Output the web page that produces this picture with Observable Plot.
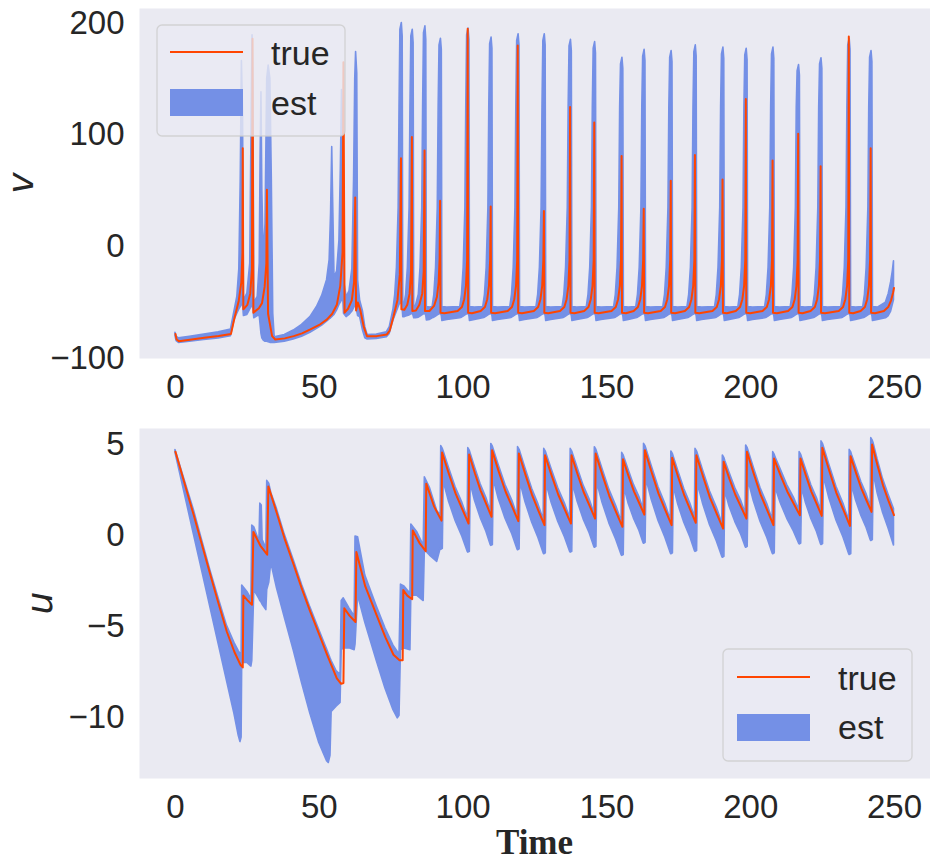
<!DOCTYPE html>
<html><head><meta charset="utf-8">
<script src="https://cdn.jsdelivr.net/npm/d3@7"></script>
<script src="https://cdn.jsdelivr.net/npm/@observablehq/plot@0.6"></script>
<style>
body{margin:0;background:#fff;}
#fig{position:relative;width:930px;height:861px;overflow:hidden;}
#fig svg{position:absolute;left:0;}
</style></head><body><div id="fig"></div>
<script>
const xTicks = [0, 50, 100, 150, 200, 250];
const vTicks = [-100, 0, 100, 200];
const uTicks = [-10, -5, 0, 5];
const legendLabels = ["true", "est"];
const xLabel = "Time";
const vLabel = "v";
const uLabel = "u";

// true membrane potential v: [time, v]
const vTrue = [
[0,-78],[0.4,-83],[1.2,-84.5],[5,-83.2],[10,-81.5],[15,-79.8],[19.3,-78],
[20.5,-64],[22,-48.5],[22.9,-32],[23.3,-5],[23.4,88],
[23.6,-56],[25,-52],[26,-42],[26.6,-20],[26.8,186],
[27.1,-59],[29,-55],[30.1,-50.5],[31,-36],[31.6,-15],[31.8,51],
[32.2,-60],[33.6,-80],[34.7,-83],[38,-82],[41.1,-80],[44,-77.5],[46.9,-74],[50,-70],[52.7,-65],[54.5,-60],[56.1,-52],[57.3,-35],[58.1,-5],[58.4,165],
[58.8,-59],[60,-55.5],[61.3,-48],[62.1,-32],[62.5,44],
[62.8,-57],[63.4,-50],[64.2,-56],[65.5,-72],[66.6,-80],[70,-80],[73.5,-78.5],[74.5,-75],[75.8,-62.5],[77.2,-47.6],[78.0,-25],[78.4,79],
[78.55,-56],[79.6,-56.5],[80.6,-52],[81.4,-42],[81.9,-22],[82.2,98],
[82.35,-57.5],[83.6,-57],[84.8,-52],[85.8,-42],[86.3,-22],[86.6,86],
[86.75,-57.5],[88.3,-57.5],[89.9,-53],[90.9,-45],[91.5,-32],[91.85,-10],[92.0,41],
[92.15,-59],[93.5,-59.5],[98.1,-57.5],[99.6,-54],[100.4,-47],[101.0,-35],[101.4,-12],[101.6,195],
[101.75,-59],[103.1,-59.5],[106.1,-57.5],[107.6,-54],[108.4,-47],[109.0,-35],[109.4,-12],[109.6,36],
[109.75,-59],[111.1,-59.5],[115.5,-57.5],[117.0,-54],[117.8,-47],[118.4,-35],[118.8,-12],[119.0,180],
[119.15,-59],[120.5,-59.5],[124.6,-57.5],[126.1,-54],[126.9,-47],[127.5,-35],[127.9,-12],[128.1,32],
[128.25,-59],[129.6,-59.5],[133.7,-57.5],[135.2,-54],[136.0,-47],[136.6,-35],[137.0,-12],[137.2,125],
[137.35,-59],[138.7,-59.5],[142.1,-57.5],[143.6,-54],[144.4,-47],[145.0,-35],[145.4,-12],[145.6,111],
[145.75,-59],[147.1,-59.5],[151.6,-57.5],[153.1,-54],[153.9,-47],[154.5,-35],[154.9,-12],[155.1,81],
[155.25,-59],[156.6,-59.5],[159.3,-57.5],[160.8,-54],[161.6,-47],[162.2,-35],[162.6,-12],[162.8,34],
[162.95,-59],[164.3,-59.5],[168.7,-57.5],[170.2,-54],[171.0,-47],[171.6,-35],[172.0,-12],[172.2,59],
[172.35,-59],[173.7,-59.5],[177.1,-57.5],[178.6,-54],[179.4,-47],[180.0,-35],[180.4,-12],[180.6,82],
[180.75,-59],[182.1,-59.5],[186.7,-57.5],[188.2,-54],[189.0,-47],[189.6,-35],[190.0,-12],[190.2,60],
[190.35,-59],[191.7,-59.5],[194.8,-57.5],[196.3,-54],[197.1,-47],[197.7,-35],[198.1,-12],[198.3,132],
[198.45,-59],[199.8,-59.5],[204.1,-57.5],[205.6,-54],[206.4,-47],[207.0,-35],[207.4,-12],[207.6,77],
[207.75,-59],[209.1,-59.5],[213.0,-57.5],[214.5,-54],[215.3,-47],[215.9,-35],[216.3,-12],[216.5,101],
[216.65,-59],[218.0,-59.5],[220.8,-57.5],[222.3,-54],[223.1,-47],[223.7,-35],[224.1,-12],[224.3,72],
[224.45,-59],[225.8,-59.5],[230.6,-57.5],[232.1,-54],[232.9,-47],[233.5,-35],[233.9,-12],[234.1,188],
[234.25,-59],[235.6,-59.5],[238.2,-57.5],[239.7,-54],[240.5,-47],[241.1,-35],[241.5,-12],[241.7,88],
[241.85,-59],[243.2,-59.5],[246.3,-57.5],[247.8,-54],[248.8,-48],[249.5,-41],[249.8,-37]
];

// estimated v band: [time, lower, upper]
const vEst = [
[0,-80,-77],[0.4,-84.5,-80.5],[1.2,-86,-82],[5,-85,-80.5],[10,-83.5,-78.5],[15,-82,-76.5],[19.3,-80,-74],
[20.5,-66,-58],[21.5,-60,-45],[22.2,-56,-20],[22.7,-54,60],[23.1,-52,166],[23.5,-52,120],[23.8,-62,-48],
[25.0,-61,-42],[26.0,-56,-15],[26.5,-54,120],[26.8,-52,189],[27.1,-55,140],[27.4,-64,-50],
[28.6,-62,-45],[29.3,-62,-15],[29.6,-70,80],[29.9,-78,138],[30.2,-82,50],[30.7,-84,-10],[31.3,-85,20],
[31.9,-85,150],[32.4,-85.5,162],[33.0,-86,150],[33.5,-86,60],[34.0,-86,-60],[34.5,-86,-81],
[38,-85,-79],[41.1,-83,-75],[44,-80.5,-70],[46.9,-77,-63],[49.2,-73.5,-54],[51,-70.5,-44],[52.7,-67,-30],
[53.6,-65,-12],[54.1,-64,30],[54.5,-63,89],[54.9,-62,30],[55.3,-61,-28],[56.2,-57,-22],[57.0,-52,5],
[57.5,-50,70],[57.9,-48,140],[58.3,-45,110],[58.6,-60,-30],[59.5,-63,-45],[60.5,-61,-40],[61.5,-58,-20],
[62.1,-55,60],[62.5,-53,150],[62.8,-54,174],[63.2,-58,155],[63.5,-62,-30],[64.2,-63,-48],[65.2,-75,-58],
[66.0,-82,-72],[66.8,-83,-79],[70,-82.5,-78.5],[73.5,-81,-76.5],[74.5,-78,-72],[75.8,-66,-56],
[76.4,-62,-43],[77.0,-58,-19],[77.6,-54,35],[77.9,-52,124],[78.2,-51,194],[78.7,-50,200],[79.0,-56,188],[79.2,-63,-52],
[79.6,-63,-52],[80.2,-62.5,-43],[80.8,-62,-19],[81.4,-61.5,35],[81.7,-61,124],[82.0,-60.5,188],[82.5,-60,194],[82.8,-62,182],[83.0,-64,-53],
[83.6,-64,-53],[84.6,-63.5,-43],[85.2,-62.5,-19],[85.8,-61.5,35],[86.1,-61,124],[86.4,-60.5,191],[86.9,-60,197],[87.2,-62,185],[87.4,-66,-54],
[88.5,-65.5,-54.5],[89.4,-64,-54],[90.0,-63.5,-43],[90.6,-62.5,-19],[91.2,-61.5,35],[91.5,-61,124],[91.8,-60.5,180],[92.3,-60,186],[92.6,-62,176],[92.8,-66.5,-54],
[94.5,-65.5,-54.5],[99.0,-64,-54],[99.6,-63.5,-43],[100.2,-62.5,-19],[100.8,-61.5,35],[101.1,-61,124],[101.4,-60.5,189],[101.9,-60,195],[102.2,-62,185],[102.4,-66.5,-54],
[104.1,-65.5,-54.5],[107.0,-64,-54],[107.6,-63.5,-43],[108.2,-62.5,-19],[108.8,-61.5,35],[109.1,-61,124],[109.4,-60.5,181],[109.9,-60,187],[110.2,-62,177],[110.4,-66.5,-54],
[112.1,-65.5,-54.5],[116.4,-64,-54],[117.0,-63.5,-43],[117.6,-62.5,-19],[118.2,-61.5,35],[118.5,-61,124],[118.8,-60.5,184],[119.3,-60,190],[119.6,-62,180],[119.8,-66.5,-54],
[121.5,-65.5,-54.5],[125.5,-64,-54],[126.1,-63.5,-43],[126.7,-62.5,-19],[127.3,-61.5,35],[127.6,-61,124],[127.9,-60.5,184],[128.4,-60,190],[128.7,-62,180],[128.9,-66.5,-54],
[130.6,-65.5,-54.5],[134.6,-64,-54],[135.2,-63.5,-43],[135.8,-62.5,-19],[136.4,-61.5,35],[136.7,-61,124],[137.0,-60.5,179],[137.5,-60,185],[137.8,-62,175],[138.0,-66.5,-54],
[139.7,-65.5,-54.5],[143.0,-64,-54],[143.6,-63.5,-43],[144.2,-62.5,-19],[144.8,-61.5,35],[145.1,-61,124],[145.4,-60.5,177],[145.9,-60,183],[146.2,-62,173],[146.4,-66.5,-54],
[148.1,-65.5,-54.5],[152.5,-64,-54],[153.1,-63.5,-43],[153.7,-62.5,-19],[154.3,-61.5,35],[154.6,-61,124],[154.9,-60.5,163],[155.4,-60,169],[155.7,-62,159],[155.9,-66.5,-54],
[157.6,-65.5,-54.5],[160.2,-64,-54],[160.8,-63.5,-43],[161.4,-62.5,-19],[162.0,-61.5,35],[162.3,-61,124],[162.6,-60.5,170],[163.1,-60,176],[163.4,-62,166],[163.6,-66.5,-54],
[165.3,-65.5,-54.5],[169.6,-64,-54],[170.2,-63.5,-43],[170.8,-62.5,-19],[171.4,-61.5,35],[171.7,-61,124],[172.0,-60.5,169],[172.5,-60,175],[172.8,-62,165],[173.0,-66.5,-54],
[174.7,-65.5,-54.5],[178.0,-64,-54],[178.6,-63.5,-43],[179.2,-62.5,-19],[179.8,-61.5,35],[180.1,-61,124],[180.4,-60.5,174],[180.9,-60,180],[181.2,-62,170],[181.4,-66.5,-54],
[183.1,-65.5,-54.5],[187.6,-64,-54],[188.2,-63.5,-43],[188.8,-62.5,-19],[189.4,-61.5,35],[189.7,-61,124],[190.0,-60.5,172],[190.5,-60,178],[190.8,-62,168],[191.0,-66.5,-54],
[192.7,-65.5,-54.5],[195.7,-64,-54],[196.3,-63.5,-43],[196.9,-62.5,-19],[197.5,-61.5,35],[197.8,-61,124],[198.1,-60.5,171],[198.6,-60,177],[198.9,-62,167],[199.1,-66.5,-54],
[200.8,-65.5,-54.5],[205.0,-64,-54],[205.6,-63.5,-43],[206.2,-62.5,-19],[206.8,-61.5,35],[207.1,-61,124],[207.4,-60.5,172],[207.9,-60,178],[208.2,-62,168],[208.4,-66.5,-54],
[210.1,-65.5,-54.5],[213.9,-64,-54],[214.5,-63.5,-43],[215.1,-62.5,-19],[215.7,-61.5,35],[216.0,-61,124],[216.3,-60.5,157],[216.8,-60,162.5],[217.1,-62,153],[217.3,-66.5,-54],
[219.0,-65.5,-54.5],[221.7,-64,-54],[222.3,-63.5,-43],[222.9,-62.5,-19],[223.5,-61.5,35],[223.8,-61,124],[224.1,-60.5,163],[224.6,-60,168.5],[224.9,-62,159],[225.1,-66.5,-54],
[226.8,-65.5,-54.5],[231.5,-64,-54],[232.1,-63.5,-43],[232.7,-62.5,-19],[233.3,-61.5,35],[233.6,-61,124],[233.9,-60.5,180],[234.4,-60,186],[234.7,-62,176],[234.9,-66.5,-54],
[236.6,-65.5,-54.5],[239.1,-64,-54],[239.7,-63.5,-43],[240.3,-62.5,-19],[240.9,-61.5,35],[241.2,-61,124],[241.5,-60.5,169],[242.0,-60,175],[242.3,-62,165],[242.5,-66.5,-54],
[244.2,-65.5,-54.5],[247.0,-64,-50],[248.0,-62,-42],[248.8,-58,-32],[249.4,-52,-22],[249.8,-48,-13]
];

// true recovery variable u: [time, u]
const uTrue = [
[0,4.6],[3,2.95],[6.4,1.1],[9,-0.38],[12.2,-2.2],[15,-3.75],[17.9,-5.3],[20.5,-6.4],[22.6,-7.1],[23.4,-7.25],
[23.6,-3.3],[25,-3.55],[26.6,-3.8],[27.1,0.2],[29.5,-0.55],[31.9,-1.05],[32.3,2.7],
[35.3,1.2],[38,-0.2],[41.1,-1.6],[44,-2.95],[46.9,-4.2],[50,-5.45],[52.7,-6.55],[56.1,-7.85],[57.6,-8.15],[58.4,-8.1],
[58.7,-4.0],[60.5,-4.4],[62.6,-4.75],[62.9,-0.9],[66,-2.8],[70,-4.4],[73,-5.6],[75.8,-6.55],[77.9,-6.85],[79.0,-6.85],
[79.2,-3.0],[80.6,-3.3],[82.3,-3.5],[82.5,0.28],[84.8,-0.4],[87.0,-0.86],[87.2,2.85],[89.9,1.6],[92.5,0.82],
[92.7,4.56],[95.05,3.39],[97.4,2.30],[99.75,1.44],[101.9,0.66],
[102.1,4.45],[104.1,3.42],[106.1,2.47],[108.1,1.71],[109.9,1.03],
[110.1,4.68],[112.4,3.51],[114.75,2.42],[117.1,1.57],[119.2,0.79],
[119.4,4.51],[121.7,3.33],[124.0,2.22],[126.2,1.36],[128.3,0.57],
[128.5,4.41],[130.8,3.29],[133.1,2.24],[135.4,1.41],[137.5,0.66],
[137.7,4.41],[139.8,3.37],[141.9,2.39],[144.0,1.63],[145.9,0.93],
[146.1,4.5],[148.5,3.29],[150.85,2.17],[153.2,1.28],[155.4,0.48],
[155.6,4.19],[157.5,3.28],[159.4,2.43],[161.3,1.76],[163.0,1.15],
[163.2,4.69],[165.6,3.45],[167.95,2.30],[170.3,1.39],[172.5,0.57],
[172.7,4.27],[174.8,3.2],[176.9,2.2],[179.0,1.41],[180.9,0.70],
[181.1,4.41],[183.5,3.2],[185.85,2.07],[188.2,1.19],[190.4,0.38],
[190.6,4.05],[192.6,3.11],[194.65,2.24],[196.7,1.55],[198.5,0.93],
[198.7,4.6],[201.05,3.39],[203.4,2.26],[205.75,1.38],[207.9,0.57],
[208.1,4.23],[210.4,3.29],[212.7,2.42],[215.0,1.73],[217.1,1.11],
[217.3,4.23],[219.2,3.29],[221.1,2.4],[223.0,1.71],[224.7,1.08],
[224.9,4.82],[227.35,3.53],[229.8,2.33],[232.25,1.39],[234.5,0.53],
[234.7,4.36],[236.6,3.44],[238.45,2.59],[240.3,1.91],[242.0,1.30],
[242.2,5.0],[244.1,3.84],[246.0,2.75],[247.9,1.9],[249.8,1.12]
];

// estimated u band: [time, lower, upper]
const uEst = [
[0,4.55,4.7],[3,2.45,3.15],[6.4,0.07,1.4],[9,-1.75,-0.1],[12.2,-3.99,-1.95],[15,-5.95,-3.45],[17.9,-7.98,-4.95],
[20.5,-9.8,-5.9],[22.0,-11.0,-6.35],[22.6,-11.35,-6.5],[23.0,-11.1,-6.6],[23.2,-7.0,-2.75],[25.0,-7.0,-3.1],
[26.4,-7.2,-3.5],[26.7,-6.9,0.55],[27.4,-3.0,0.45],[29.2,-3.5,-0.35],[29.5,-3.6,1.75],[30.0,-3.7,1.65],
[30.3,-3.8,-0.25],[31.6,-4.1,-0.7],[31.9,-3.0,3.0],[32.6,-2.6,2.85],[33.3,-1.5,2.35],[35.3,-2.9,1.45],
[38,-4.5,0.05],[41.1,-6.3,-1.35],[44,-8.1,-2.7],[46.9,-9.8,-3.95],[50,-11.4,-5.2],[52.7,-12.4,-6.25],
[53.3,-12.5,-6.5],[53.9,-12.1,-6.75],[54.3,-9.7,-6.9],[56.0,-9.4,-7.45],[57.4,-9.2,-7.65],[57.8,-6.3,-3.6],
[58.5,-6.2,-3.45],[60.5,-6.2,-4.0],[62.3,-6.3,-4.45],[62.6,-6.0,-0.05],[63.5,-3.3,-0.1],[66,-4.8,-2.2],
[70,-6.9,-3.9],[73,-8.4,-5.1],[75.8,-9.6,-6.05],[77.3,-10.05,-6.4],[77.9,-9.9,-6.5],[78.4,-6.3,-2.7],
[79.6,-6.2,-2.8],[81.7,-6.3,-3.2],[82.0,-3.3,0.6],[84.0,-3.3,0.2],[86.3,-3.6,-0.55],[86.7,-0.8,3.2],
[88.5,-1.1,2.6],[91.0,-1.45,1.35],
[92.2,-0.73,1.12],[92.4,-0.78,4.91],[92.95,-0.73,4.76],[93.25,2.96,4.61],[95.05,1.89,3.74],[97.4,0.80,2.65],[99.75,-0.06,1.79],
[101.6,-0.89,0.96],[101.8,-0.94,4.80],[102.35,-0.89,4.65],[102.65,2.85,4.50],[104.1,1.92,3.77],[106.1,0.97,2.82],[108.1,0.21,2.06],
[109.6,-0.52,1.33],[109.8,-0.57,5.03],[110.35,-0.52,4.88],[110.65,3.08,4.73],[112.4,2.01,3.86],[114.75,0.92,2.77],[117.1,0.07,1.92],
[118.9,-0.76,1.09],[119.1,-0.81,4.86],[119.65,-0.76,4.71],[119.95,2.91,4.56],[121.7,1.83,3.68],[124.0,0.72,2.57],[126.2,-0.14,1.71],
[128.0,-0.98,0.87],[128.2,-1.03,4.76],[128.75,-0.98,4.61],[129.05,2.81,4.46],[130.8,1.79,3.64],[133.1,0.74,2.59],[135.4,-0.09,1.76],
[137.2,-0.89,0.96],[137.4,-0.94,4.76],[137.95,-0.89,4.61],[138.25,2.81,4.46],[139.8,1.87,3.72],[141.9,0.89,2.74],[144.0,0.13,1.98],
[145.6,-0.62,1.23],[145.8,-0.67,4.85],[146.35,-0.62,4.70],[146.65,2.90,4.55],[148.5,1.79,3.64],[150.85,0.67,2.52],[153.2,-0.22,1.63],
[155.1,-1.07,0.78],[155.3,-1.12,4.54],[155.85,-1.07,4.39],[156.15,2.59,4.24],[157.5,1.78,3.63],[159.4,0.93,2.78],[161.3,0.26,2.11],
[162.7,-0.40,1.45],[162.9,-0.45,5.04],[163.45,-0.40,4.89],[163.75,3.09,4.74],[165.6,1.95,3.80],[167.95,0.80,2.65],[170.3,-0.11,1.74],
[172.2,-0.98,0.87],[172.4,-1.03,4.62],[172.95,-0.98,4.47],[173.25,2.67,4.32],[174.8,1.70,3.55],[176.9,0.70,2.55],[179.0,-0.09,1.76],
[180.6,-0.85,1.00],[180.8,-0.90,4.76],[181.35,-0.85,4.61],[181.65,2.81,4.46],[183.5,1.70,3.55],[185.85,0.57,2.42],[188.2,-0.31,1.54],
[190.1,-1.17,0.68],[190.3,-1.22,4.40],[190.85,-1.17,4.25],[191.15,2.45,4.10],[192.6,1.61,3.46],[194.65,0.74,2.59],[196.7,0.05,1.90],
[198.2,-0.62,1.23],[198.4,-0.67,4.95],[198.95,-0.62,4.80],[199.25,3.00,4.65],[201.05,1.89,3.74],[203.4,0.76,2.61],[205.75,-0.12,1.73],
[207.6,-0.98,0.87],[207.8,-1.03,4.58],[208.35,-0.98,4.43],[208.65,2.63,4.28],[210.4,1.79,3.64],[212.7,0.92,2.77],[215.0,0.23,2.08],
[216.8,-0.44,1.41],[217.0,-0.49,4.58],[217.55,-0.44,4.43],[217.85,2.63,4.28],[219.2,1.79,3.64],[221.1,0.90,2.75],[223.0,0.21,2.06],
[224.4,-0.47,1.38],[224.6,-0.52,5.17],[225.15,-0.47,5.02],[225.45,3.22,4.87],[227.35,2.03,3.88],[229.8,0.83,2.68],[232.25,-0.11,1.74],
[234.2,-1.02,0.83],[234.4,-1.07,4.71],[234.95,-1.02,4.56],[235.25,2.76,4.41],[236.6,1.94,3.79],[238.45,1.09,2.94],[240.3,0.41,2.26],
[241.7,-0.25,1.60],[241.9,-0.30,5.35],[242.45,-0.25,5.20],[242.75,3.40,5.05],[244.1,2.34,4.19],[246.0,1.25,3.10],[247.9,0.40,2.25],
[249.8,-0.55,1.45]
];

// royalblue at 70% opacity over the #EAEAF2 axes background
const RED = "#FF4500", BLUE = "#7490E6", BG = "#EAEAF2", INK = "#262626";
const fmt = d => d < 0 ? "\u2212" + Math.abs(d) : String(d);

function panel(o) {
  return Plot.plot({
    width: 930, height: o.height,
    marginLeft: 139, marginRight: 0, marginTop: o.marginTop, marginBottom: o.marginBottom,
    style: {fontFamily: "'Liberation Sans', Arial, sans-serif", fontSize: "33px", color: INK, background: "transparent", overflow: "visible"},
    x: {domain: [-12.5, 262.5], ticks: xTicks, tickFormat: fmt, tickSize: 0, tickPadding: 16, label: null},
    y: {domain: o.yDomain, ticks: o.yTicks, tickFormat: fmt, tickSize: 0, tickPadding: 15, label: null},
    marks: [
      Plot.frame({fill: BG, stroke: "none"}),
      Plot.areaY(o.est, {x: d => d[0], y1: d => d[1], y2: d => d[2], fill: BLUE, stroke: BLUE, strokeWidth: 1.6, strokeLinejoin: "round", clip: true}),
      Plot.line(o.tru, {x: d => d[0], y: d => d[1], stroke: RED, strokeWidth: 2, clip: true})
    ]
  });
}

function addLegend(svg, o) {
  const g = d3.select(svg).append("g");
  g.append("rect").attr("x", o.x).attr("y", o.y).attr("width", o.w).attr("height", o.h)
    .attr("rx", 5).attr("fill", BG).attr("fill-opacity", 0.8)
    .attr("stroke", "#CCCCCC").attr("stroke-opacity", 0.8).attr("stroke-width", 1.3);
  g.append("line").attr("x1", o.hx).attr("x2", o.hx + 73).attr("y1", o.lineY).attr("y2", o.lineY)
    .attr("stroke", RED).attr("stroke-width", 2);
  g.append("rect").attr("x", o.hx).attr("y", o.patchY).attr("width", 73).attr("height", 27)
    .attr("fill", BLUE);
  g.selectAll("text.lg").data(legendLabels).join("text").attr("class", "lg")
    .attr("x", o.tx).attr("y", (d, i) => o.base[i])
    .attr("text-anchor", "start")
    .attr("fill", INK).attr("font-size", 34).attr("font-family", "'Liberation Sans', Arial, sans-serif")
    .text(d => d);
}

function addYLabel(svg, text, x, y) {
  d3.select(svg).append("text")
    .attr("transform", `translate(${x},${y}) rotate(-90)`)
    .attr("text-anchor", "middle").attr("fill", INK)
    .attr("font-size", 36).attr("font-style", "italic")
    .attr("font-family", "'DejaVu Sans', sans-serif")
    .text(text);
}

const fig = document.getElementById("fig");

const topSvg = panel({height: 400, marginTop: 8, marginBottom: 42, yDomain: [-100, 213], yTicks: vTicks, est: vEst, tru: vTrue});
topSvg.style.top = "0px";
addYLabel(topSvg, vLabel, 33, 183);
addLegend(topSvg, {x: 157, y: 25, w: 188, h: 111, hx: 170, lineY: 52, patchY: 89, tx: 271, base: [65, 115]});
fig.appendChild(topSvg);

const botSvg = panel({height: 461, marginTop: 28, marginBottom: 83, yDomain: [-13.35, 5.88], yTicks: uTicks, est: uEst, tru: uTrue});
botSvg.style.top = "400px";
addYLabel(botSvg, uLabel, 52, 203);
addLegend(botSvg, {x: 723, y: 249, w: 189, h: 112, hx: 737, lineY: 277, patchY: 314, tx: 838, base: [290, 339]});
d3.select(botSvg).append("text")
  .attr("x", 534.5).attr("y", 454).attr("text-anchor", "middle")
  .attr("fill", INK).attr("font-size", 35).attr("font-weight", "bold")
  .attr("font-family", "'Liberation Serif', 'Times New Roman', serif")
  .text(xLabel);
fig.appendChild(botSvg);
</script>
</body></html>
